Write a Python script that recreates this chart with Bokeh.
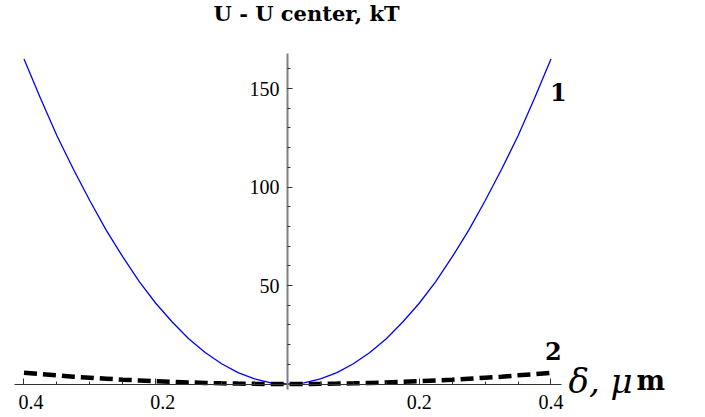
from bokeh.plotting import figure
from bokeh.models import LinearAxis, FixedTicker, Range1d, Label
from bokeh.embed import file_html
from bokeh.resources import INLINE

# ---- data ----
delta = [-0.4, -0.375, -0.35, -0.325, -0.3, -0.275, -0.25, -0.225, -0.2, -0.175,
         -0.15, -0.125, -0.1, -0.075, -0.05, -0.025, 0.0,
         0.025, 0.05, 0.075, 0.1, 0.125, 0.15, 0.175, 0.2, 0.225,
         0.25, 0.275, 0.3, 0.325, 0.35, 0.375, 0.4]
u_curve1 = [165, 145, 126, 109, 93, 78, 64.5, 52, 41, 31.5,
            23, 16, 10.3, 5.8, 2.6, 0.6, 0,
            0.6, 2.6, 5.8, 10.3, 16, 23, 31.5, 41, 52,
            64.5, 78, 93, 109, 126, 145, 165]
u_curve2 = [5.7, 5.0, 4.4, 3.7, 3.2, 2.7, 2.2, 1.8, 1.4, 1.1,
            0.8, 0.55, 0.35, 0.2, 0.09, 0.02, 0,
            0.02, 0.09, 0.2, 0.35, 0.55, 0.8, 1.1, 1.4, 1.8,
            2.2, 2.7, 3.2, 3.7, 4.4, 5.0, 5.7]

x_major = [-0.4, -0.2, 0.2, 0.4]
x_major_labels = ["0.4", "0.2", "0.2", "0.4"]
x_minor = [-0.4, -0.35, -0.3, -0.25, -0.2, -0.15, -0.1, -0.05,
           0.05, 0.1, 0.15, 0.2, 0.25, 0.3, 0.35, 0.4]
y_major = [50, 100, 150]
y_minor = [10, 20, 30, 40, 50, 60, 70, 80, 90, 100, 110, 120, 130, 140, 150, 160]

title_text = "U - U center, kT"
curve_labels = ["1", "2"]
x_label_text = "δ, μ"
x_label_unit = "m"

# ---- figure ----
p = figure(width=700, height=414,
           x_range=Range1d(-0.43567, 0.62695), y_range=Range1d(-15.48, 194.67),
           x_axis_type=None, y_axis_type=None,
           toolbar_location=None, output_backend="svg", min_border=0)
p.outline_line_color = None
p.background_fill_color = "white"
p.border_fill_color = "white"

p.line(delta, u_curve1, line_color="#0000ff", line_width=1.3)
p.line(delta, u_curve2, line_color="black", line_width=4.5, line_dash="13 6")

# x axis crossing at y = 0
pad = "\u2002\u2009"
overrides = {}
for v, t in zip(x_major, x_major_labels):
    overrides[v] = (pad + t) if v < 0 else t
xaxis = LinearAxis(fixed_location=0, bounds=(-0.415, 0.416),
                   ticker=FixedTicker(ticks=x_major, minor_ticks=x_minor),
                   major_label_overrides=overrides)
xaxis.axis_line_color = "#333333"
xaxis.axis_line_width = 1
xaxis.major_tick_in = 6
xaxis.major_tick_out = 0
xaxis.minor_tick_in = 3
xaxis.minor_tick_out = 0
xaxis.major_tick_line_color = "#333333"
xaxis.minor_tick_line_color = "#333333"
xaxis.major_label_standoff = 7
xaxis.major_label_text_font = "Liberation Serif"
xaxis.major_label_text_font_size = "20px"
xaxis.major_label_text_color = "black"
p.add_layout(xaxis, "below")

# y axis crossing at x = 0
yaxis = LinearAxis(fixed_location=0, bounds=(-3, 168),
                   ticker=FixedTicker(ticks=y_major, minor_ticks=y_minor))
yaxis.axis_line_color = "#808080"
yaxis.axis_line_width = 2
yaxis.major_tick_in = 5
yaxis.major_tick_out = 0
yaxis.minor_tick_in = 3
yaxis.minor_tick_out = 0
yaxis.major_tick_line_color = "#333333"
yaxis.minor_tick_line_color = "#333333"
yaxis.major_label_standoff = 8
yaxis.major_label_text_font = "Liberation Serif"
yaxis.major_label_text_font_size = "20px"
yaxis.major_label_text_color = "black"
p.add_layout(yaxis, "left")

# texts
p.add_layout(Label(x=0.029, y=188.0, text=title_text, text_align="center",
                   text_baseline="alphabetic", text_font="DejaVu Serif",
                   text_font_style="bold", text_font_size="21px", text_color="black"))
p.add_layout(Label(x=0.3985, y=148.0, text=curve_labels[0], text_align="left",
                   text_baseline="alphabetic", text_font="DejaVu Serif",
                   text_font_style="bold", text_font_size="24px", text_color="black"))
p.add_layout(Label(x=0.391, y=16.6, text=curve_labels[1], text_align="left",
                   text_baseline="alphabetic", text_font="DejaVu Serif",
                   text_font_style="bold", text_font_size="24px", text_color="black"))
p.add_layout(Label(x=0.4266, y=1.6, text=x_label_text, text_align="left",
                   text_baseline="alphabetic", text_font="DejaVu Serif",
                   text_font_style="italic", text_font_size="34px", text_color="black"))
p.add_layout(Label(x=0.5298, y=1.6, text=x_label_unit, text_align="left",
                   text_baseline="alphabetic", text_font="DejaVu Serif",
                   text_font_style="bold", text_font_size="27px", text_color="black"))

open("out.html", "w").write(file_html(p, INLINE))
